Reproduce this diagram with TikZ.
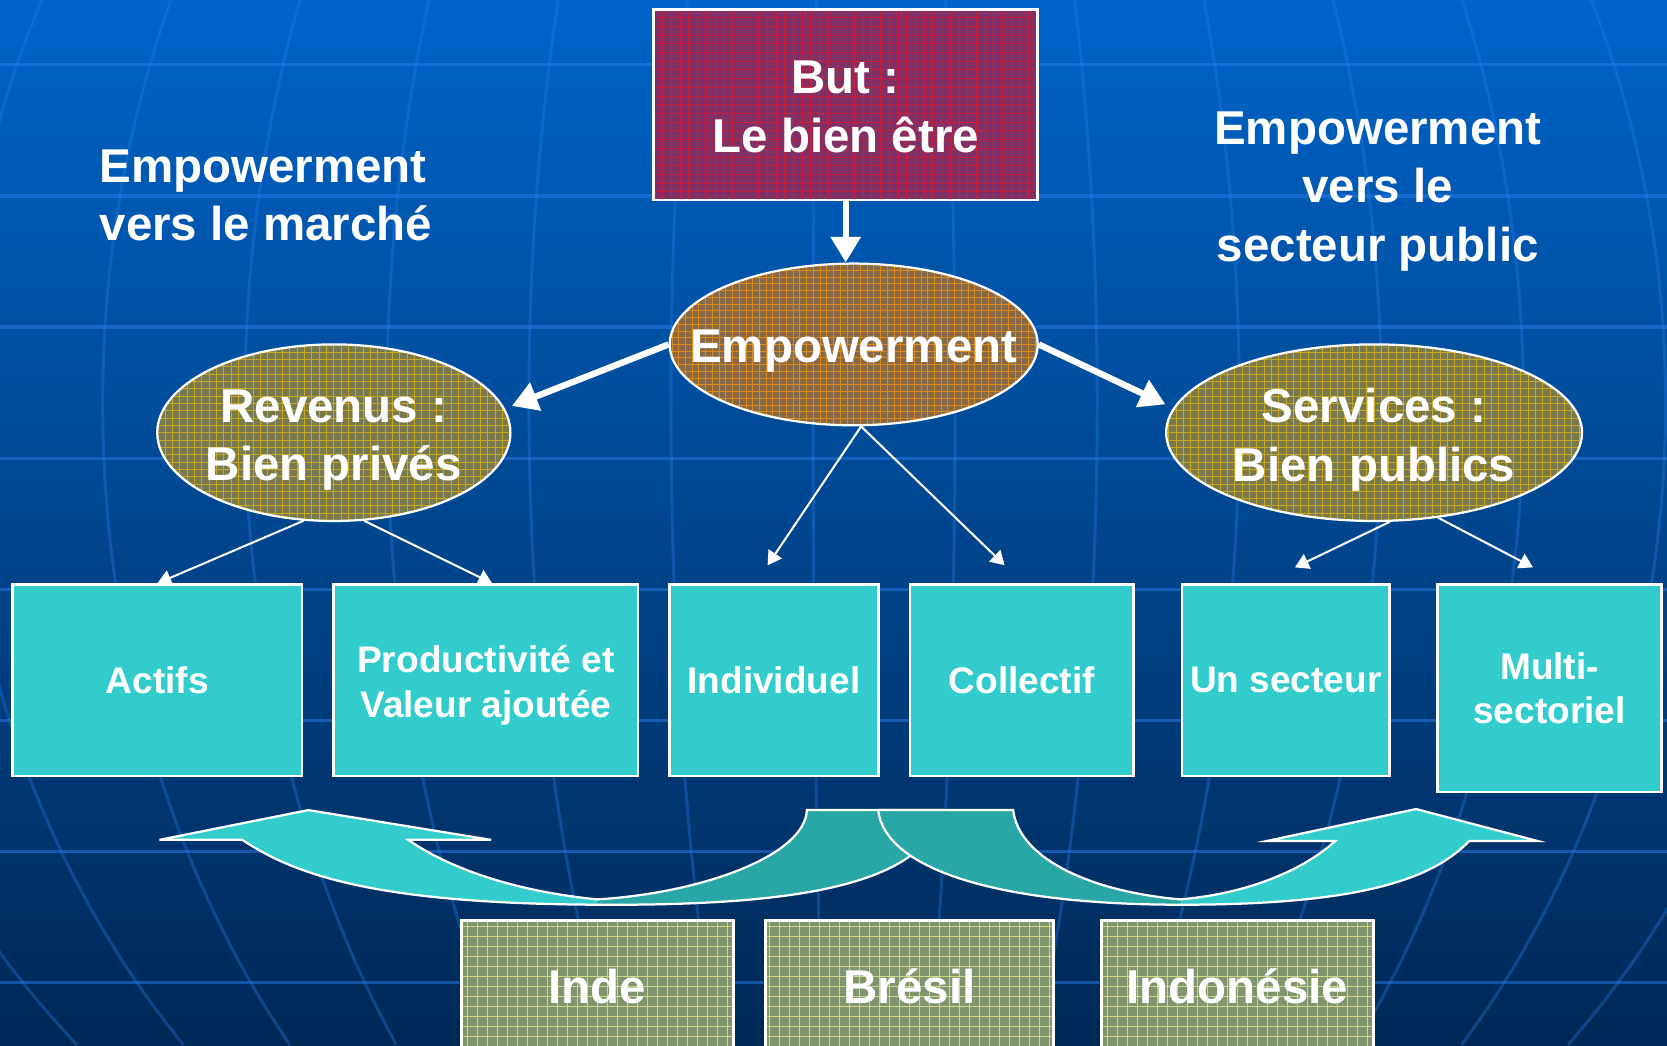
\documentclass[tikz,border=0pt]{standalone}
\usepackage{fontspec}
\setmainfont{Liberation Sans}
\usetikzlibrary{shapes.geometric,arrows.meta,calc}
\definecolor{bgtop}{RGB}{0,100,200}
\definecolor{bgmid}{RGB}{0,68,138}
\definecolor{bgbot}{RGB}{0,40,86}
\definecolor{gridblue}{RGB}{40,125,235}
\definecolor{cyanfill}{RGB}{51,204,204}
\definecolor{tealdark}{RGB}{41,166,166}
\definecolor{butbase}{RGB}{128,48,100}
\definecolor{butline}{RGB}{220,25,50}
\definecolor{empbase}{RGB}{135,105,70}
\definecolor{empline}{RGB}{240,145,15}
\definecolor{olivebase}{RGB}{120,122,78}
\definecolor{oliveline}{RGB}{220,180,25}
\definecolor{ctrybase}{RGB}{128,148,110}
\definecolor{ctryline}{RGB}{230,232,140}
\newcommand\leftbandpath{(759,762) -- (886,762) .. controls (870,835) and (740,852) .. (562,851) .. controls (360,850) and (280,825) .. (228,790) -- (150,790) -- (290,762) -- (462,790) -- (384,790) .. controls (420,815) and (480,838) .. (562,846) .. controls (660,840) and (757,805) .. (759,762) -- cycle}
\newcommand\leftlightpath{(150,790) -- (290,762) -- (462,790) -- (384,790) .. controls (420,815) and (480,838) .. (562,846) -- (562,851) .. controls (360,850) and (280,825) .. (228,790) -- cycle}
\newcommand\rightbandpath{(826,762) -- (953,762) .. controls (958,805) and (1020,838) .. (1110,846) .. controls (1180,840) and (1230,815) .. (1256,791) -- (1192,791) -- (1332,761) -- (1446,791) -- (1382,791) .. controls (1345,830) and (1270,851) .. (1111,851) .. controls (930,851) and (832,815) .. (826,762) -- cycle}
\newcommand\rightlightpath{(1110,846) .. controls (1180,840) and (1230,815) .. (1256,791) -- (1192,791) -- (1332,761) -- (1446,791) -- (1382,791) .. controls (1345,830) and (1270,851) .. (1111,851) -- cycle}
\begin{document}
\begin{tikzpicture}[x=0.01cm,y=-0.01cm,
  bigtxt/.style={font=\fontsize{12.7}{15.6}\selectfont\bfseries,text=white,align=center,inner sep=0pt},
  boxtxt/.style={font=\fontsize{9.9}{11.95}\selectfont\bfseries,text=white,align=center,inner sep=0pt},
  gridfill/.style n args={3}{fill=#1,path picture={\draw[#2,line width=0.25pt,opacity=0.8,step=#3] (path picture bounding box.south west) grid (path picture bounding box.north east);}},
  rectout/.style={draw=white,line width=0.7pt},
  ellout/.style={draw=white,line width=0.6pt},
  tealbox/.style={rectangle,rectout,fill=cyanfill,inner sep=0pt,minimum height=1.8cm},
  ctrybox/.style={rectangle,rectout,gridfill={ctrybase}{ctryline}{2.67pt},inner sep=0pt,minimum height=1.24cm,minimum width=2.56cm},
  oliveell/.style={ellipse,ellout,gridfill={olivebase}{oliveline}{1.96pt},inner sep=0pt,minimum height=1.66cm},
  thickarr/.style={draw=white,line width=1.7pt,-{Triangle[width=0.27cm,length=0.24cm]}},
  thinarr/.style={draw=white,line width=0.55pt,-{Triangle[width=0.15cm,length=0.13cm]}},
  hline/.style={draw=gridblue,opacity=0.5,line width=0.85pt},
  meridian/.style={draw=gridblue,opacity=0.35,line width=0.8pt},
  bandout/.style={draw=white,line width=0.6pt}
]
\useasboundingbox (0,0) rectangle (1568,983);
\clip (0,0) rectangle (1568,983);
% background
\shade[top color=bgtop,middle color=bgmid,bottom color=bgbot] (0,0) rectangle (1568,983);
\foreach \j in {0,...,7} \draw[hline] (0,{61+123.3*\j}) -- (1568,{61+123.3*\j});
\foreach \k in {-7,...,7}
  \draw[meridian] plot[variable=\t,domain=0:983,samples=25,smooth] ({800+(-32+121.5*(\k))*1.1*sqrt(1-((\t-380)/911)^2)},\t);
% curved arrows
\fill[tealdark] \leftbandpath;
\fill[cyanfill] \leftlightpath;
\draw[bandout] \leftbandpath;
\fill[tealdark] \rightbandpath;
\fill[cyanfill] \rightlightpath;
\draw[bandout] \rightbandpath;
% country boxes
\node[ctrybox] (inde) at (562,928) {};
\node[ctrybox,minimum width=2.71cm] (bres) at (855.5,928) {};
\node[ctrybox] (indo) at (1164,928) {};
\node[bigtxt] (indetxt) at (inde.center) {Inde};
\node[bigtxt] (brestxt) at (bres.center) {Brésil};
\node[bigtxt] (indotxt) at (indo.center) {Indonésie};
% top box
\node[rectangle,rectout,gridfill={butbase}{butline}{2.33pt},minimum width=3.61cm,minimum height=1.79cm,inner sep=0pt] (but) at (795.5,98.5) {};
\node[bigtxt] (buttxt) at ($(but.center)+(0,2)$) {But :\\Le bien être};
% ellipses
\node[ellipse,ellout,gridfill={empbase}{empline}{1.8pt},minimum width=3.46cm,minimum height=1.52cm,inner sep=0pt] (emp) at (803,324) {};
\node[bigtxt] (emptxt) at ($(emp.center)+(0,6.7)$) {Empowerment};
\node[oliveell,minimum width=3.32cm] (rev) at (314,407) {};
\node[bigtxt] (revtxt) at ($(rev.center)+(0,6.7)$) {Revenus :\\Bien privés};
\node[oliveell,minimum width=3.91cm] (serv) at (1292.5,407) {};
\node[bigtxt] (servtxt) at ($(serv.center)+(0,6.7)$) {Services :\\Bien publics};
% side texts
\node[bigtxt,align=left,anchor=west] (lefttxt) at (93,183.5) {Empowerment\\vers le marché};
\node[bigtxt] (righttxt) at (1296,180.2) {Empowerment\\vers le\\secteur public};
% cyan boxes
\node[tealbox,minimum width=2.72cm,boxtxt] (actifs) at (148,640) {Actifs};
\node[tealbox,minimum width=2.86cm] (prod) at (457,640) {};
\node[boxtxt] (prodtxt) at ($(prod.center)+(0,4.6)$) {Productivité et\\Valeur ajoutée};
\node[tealbox,minimum width=1.96cm,boxtxt] (indiv) at (728,640) {Individuel};
\node[tealbox,minimum width=2.10cm,boxtxt] (coll) at (961,640) {Collectif};
\node[tealbox,minimum width=1.95cm,boxtxt] (unsect) at (1209.5,640) {Un secteur};
\node[tealbox,minimum width=2.11cm,minimum height=1.95cm,boxtxt] (multi) at (1457.5,647.5) {Multi-\\sectoriel};
% arrows
\draw[thickarr] (but.south) -- (but.south |- emp.north);
\draw[thickarr,shorten >=0.07cm] (emp.west) -- (rev.8);
\draw[thickarr,shorten >=0.08cm] (emp.east) -- (serv.173);
\draw[thinarr] (rev.-109) -- (actifs.north);
\draw[thinarr] (rev.-71) -- ($(prod.north)+(6,0)$);
\draw[thinarr] ($(emp.south)+(7,0)$) -- ($(indiv.north)+(-6,-17)$);
\draw[thinarr] ($(emp.south)+(7,0)$) -- ($(coll.north)+(-16,-17)$);
\draw[thinarr] (serv.-80) -- ($(unsect.north)+(8.5,-15)$);
\draw[thinarr] (serv.-53) -- ($(multi.north)+(-15.5,-15)$);
\end{tikzpicture}
\end{document}
